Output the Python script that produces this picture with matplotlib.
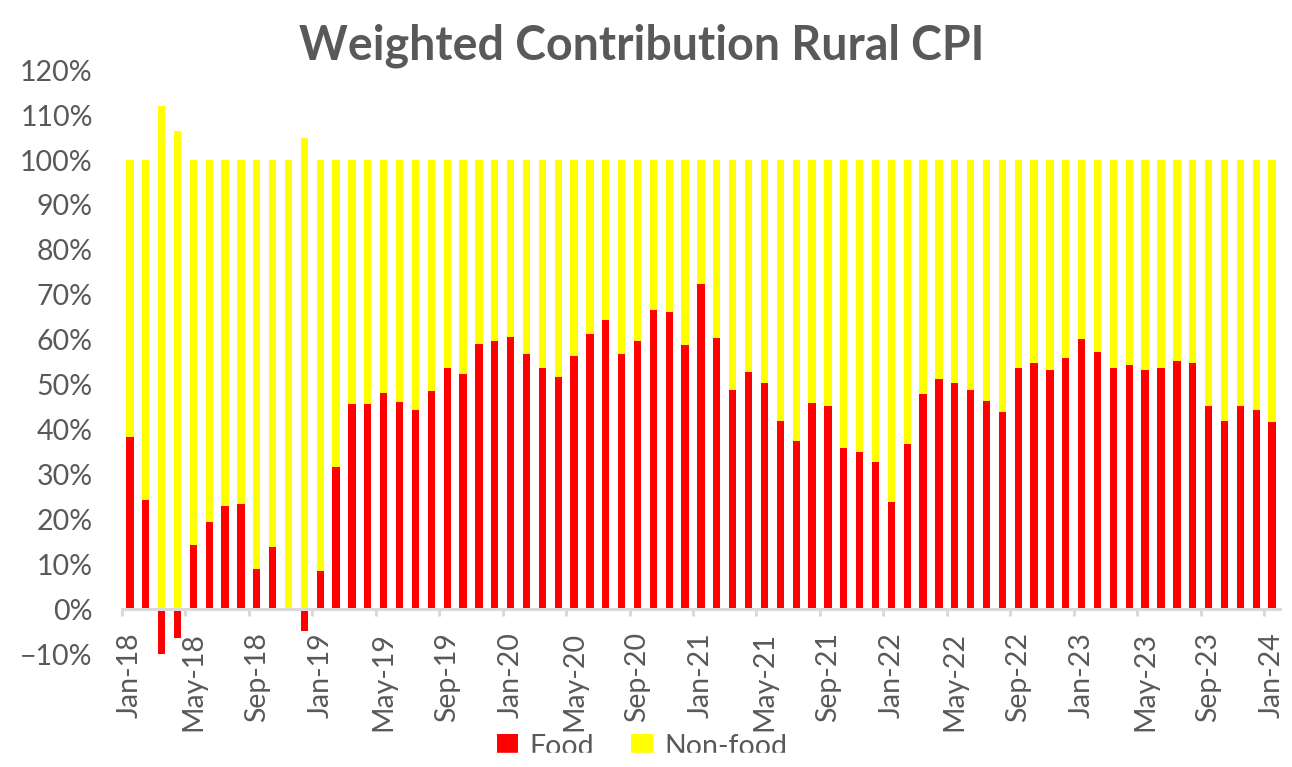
import matplotlib.pyplot as plt
from matplotlib.patches import Rectangle
from matplotlib.ticker import FixedLocator, PercentFormatter

# monthly categories Jan-18 .. Jan-24
years = ["18", "19", "20", "21", "22", "23", "24"]
mon_names = ["Jan", "Feb", "Mar", "Apr", "May", "Jun",
             "Jul", "Aug", "Sep", "Oct", "Nov", "Dec"]
months = [f"{m}-{y}" for y in years for m in mon_names][:73]

# weighted contribution (%)
food = [38.3, 24.3, -12.0, -6.4, 14.2, 19.4, 23.0, 23.5, 8.9, 13.8, 0.0, -4.8,
        8.5, 31.7, 45.7, 45.7, 48.1, 46.1, 44.4, 48.6, 53.7, 52.4, 59.0, 59.7,
        60.5, 56.8, 53.6, 51.6, 56.3, 61.2, 64.4, 56.8, 59.7, 66.5, 66.1, 58.8,
        72.5, 60.4, 48.8, 52.8, 50.4, 41.9, 37.5, 46.0, 45.2, 35.9, 35.0, 32.7,
        23.8, 36.7, 48.0, 51.2, 50.3, 48.8, 46.4, 43.9, 53.6, 54.9, 53.2, 56.0,
        60.1, 57.2, 53.6, 54.3, 53.2, 53.6, 55.2, 54.9, 45.2, 41.9, 45.2, 44.3,
        41.6]
nonfood = [61.7, 75.7, 112.0, 106.4, 85.8, 80.6, 77.0, 76.5, 91.1, 86.2, 100.0, 104.8,
           91.5, 68.3, 54.3, 54.3, 51.9, 53.9, 55.6, 51.4, 46.3, 47.6, 41.0, 40.3,
           39.5, 43.2, 46.4, 48.4, 43.7, 38.8, 35.6, 43.2, 40.3, 33.5, 33.9, 41.2,
           27.5, 39.6, 51.2, 47.2, 49.6, 58.1, 62.5, 54.0, 54.8, 64.1, 65.0, 67.3,
           76.2, 63.3, 52.0, 48.8, 49.7, 51.2, 53.6, 56.1, 46.4, 45.1, 46.8, 44.0,
           39.9, 42.8, 46.4, 45.7, 46.8, 46.4, 44.8, 45.1, 54.8, 58.1, 54.8, 55.7,
           58.4]

grey = "#595959"
x = list(range(len(months)))
# negative food shares sit below zero, so non-food starts from zero there
nf_bottom = [max(v, 0) for v in food]

fig = plt.figure(figsize=(12.92, 7.67), dpi=100)
ax = fig.add_axes([0.0944, 0.1473, 0.8963, 0.7612])

ax.bar(x, food, width=0.46, color="#FF0000", label="Food")
ax.bar(x, nonfood, width=0.46, bottom=nf_bottom, color="#FFFF00", label="Non-food")

ax.set_xlim(-0.5, len(months) - 0.5)
ax.set_ylim(-10, 120)
ax.set_yticks(range(-10, 121, 10))
ax.yaxis.set_major_formatter(PercentFormatter(decimals=0))

for s in ["top", "right", "left"]:
    ax.spines[s].set_visible(False)
ax.spines["bottom"].set_position(("data", 0))
ax.spines["bottom"].set_color("#d9d9d9")
ax.spines["bottom"].set_linewidth(2.2)

ax.set_xticks(x[::4])
ax.set_xticklabels(months[::4], rotation=90, va="top", ha="center")
ax.xaxis.set_minor_locator(FixedLocator([i - 0.5 for i in range(0, 73, 4)]))
ax.tick_params(axis="x", which="major", length=0, pad=16.5,
               labelsize=20.5, labelcolor=grey)
ax.tick_params(axis="x", which="minor", length=5, width=2.2,
               color="#d9d9d9", direction="out")
ax.tick_params(axis="y", length=0, pad=21, labelsize=20.5, labelcolor=grey)
for lab in ax.get_xticklabels() + ax.get_yticklabels():
    lab.set_fontfamily("Lato")

fig.text(0.497, 0.941, "Weighted Contribution Rural CPI", ha="center",
         va="center", fontsize=33.5, fontweight="bold", color=grey,
         fontfamily="Lato")

leg = fig.legend(loc="center", bbox_to_anchor=(0.497, 0.0265), ncol=2,
                 frameon=False, handlelength=0.75, handleheight=0.75,
                 handletextpad=0.4, columnspacing=1.3,
                 prop={"family": "Lato", "size": 20.5})
for t in leg.get_texts():
    t.set_color(grey)

# the source image is cut just under the legend
fig.patches.append(Rectangle((0, 0), 1, 0.018, transform=fig.transFigure,
                             color="white", zorder=10))

fig.savefig("out.png", dpi=100)
